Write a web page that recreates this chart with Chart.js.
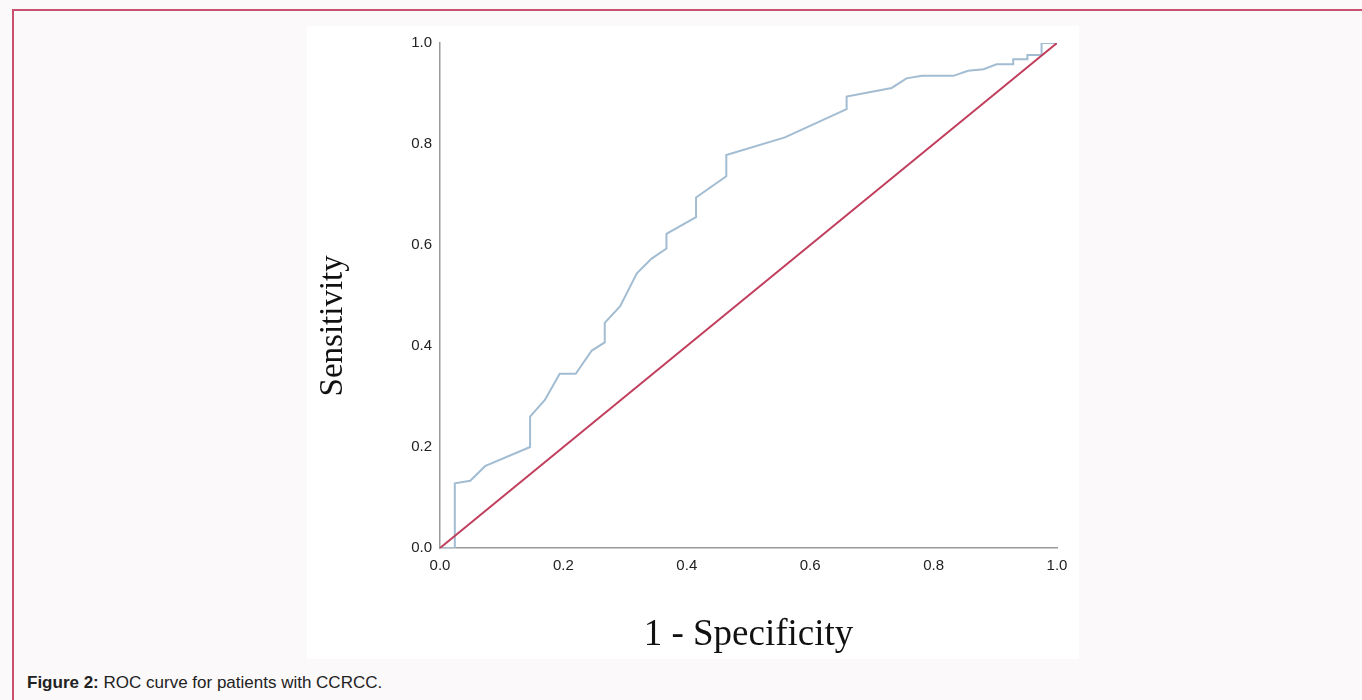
<!DOCTYPE html>
<html lang="en">

<head>
    <meta charset="UTF-8">
    <title>ROC curve</title>
    <script src="https://cdn.jsdelivr.net/npm/chart.js"></script>
    <style>
        body {
            margin: 0;
            background-color: #fbf9fa;
            font-family: Arial, "Liberation Sans", sans-serif;
            overflow: hidden;
        }

        .frame {
            position: absolute;
            left: 12px;
            top: 9px;
            width: 1400px;
            height: 760px;
            border-top: 2px solid #c9506f;
            border-left: 2px solid #c9506f;
        }

        .figure {
            position: absolute;
            left: 307px;
            top: 26px;
            width: 772px;
            height: 633px;
            background-color: #ffffff;
        }

        .caption {
            position: absolute;
            left: 27px;
            top: 673px;
            font-size: 17px;
            color: #222;
        }
    </style>
</head>

<body>
    <div class="frame"></div>
    <div class="figure">
        <canvas id="rocChart" width="772" height="633"></canvas>
    </div>
    <div class="caption"><b>Figure 2:</b> ROC curve for patients with CCRCC.</div>

    <script>
        // ROC 曲线 (1 - specificity, sensitivity)
        const rocX = [0, 0.024, 0.024, 0.049, 0.073, 0.146, 0.146, 0.170, 0.194, 0.220,
            0.246, 0.267, 0.267, 0.292, 0.319, 0.343, 0.367, 0.367, 0.415, 0.415,
            0.464, 0.464, 0.559, 0.659, 0.659, 0.732, 0.756, 0.781, 0.832, 0.856,
            0.881, 0.902, 0.929, 0.929, 0.952, 0.952, 0.975, 0.975, 1.0];
        const rocY = [0, 0, 0.128, 0.133, 0.162, 0.200, 0.260, 0.293, 0.345, 0.345,
            0.391, 0.407, 0.446, 0.479, 0.544, 0.573, 0.593, 0.622, 0.655, 0.694,
            0.736, 0.778, 0.813, 0.869, 0.894, 0.911, 0.930, 0.935, 0.935, 0.945,
            0.948, 0.958, 0.958, 0.968, 0.968, 0.976, 0.976, 1.0, 1.0];
        // 参考线
        const refX = [0, 1];
        const refY = [0, 1];
        const tickValues = [0, 0.2, 0.4, 0.6, 0.8, 1.0];

        const toPoints = (xs, ys) => xs.map((x, i) => ({ x: x, y: ys[i] }));

        // y 轴标题自己画, 位置比轴中心偏下
        const yTitlePlugin = {
            id: 'yTitle',
            afterDraw(chart) {
                const { ctx, chartArea } = chart;
                ctx.save();
                ctx.translate(26, chartArea.top + (chartArea.bottom - chartArea.top) * 0.56);
                ctx.rotate(-Math.PI / 2);
                ctx.font = '33px "Liberation Serif", "Times New Roman", serif';
                ctx.fillStyle = '#111';
                ctx.textAlign = 'center';
                ctx.textBaseline = 'middle';
                ctx.fillText('Sensitivity', 0, 0);
                ctx.restore();
            }
        };

        const tickFont = { family: 'Arial, "Liberation Sans", sans-serif', size: 15 };

        new Chart(document.getElementById('rocChart'), {
            type: 'scatter',
            data: {
                datasets: [{
                    data: toPoints(refX, refY),
                    showLine: true,
                    borderColor: '#c03e5c',
                    borderWidth: 2,
                    pointRadius: 0
                }, {
                    data: toPoints(rocX, rocY),
                    showLine: true,
                    borderColor: '#a2bcd2',
                    borderWidth: 2,
                    pointRadius: 0
                }]
            },
            options: {
                responsive: false,
                animation: false,
                layout: { padding: { top: 11, right: 22 } },
                plugins: {
                    legend: { display: false },
                    tooltip: { enabled: false }
                },
                scales: {
                    x: {
                        type: 'linear',
                        min: 0,
                        max: 1,
                        grid: { display: false, drawTicks: false },
                        border: { color: '#9a9a9a', width: 1.5 },
                        afterBuildTicks: s => { s.ticks = tickValues.map(v => ({ value: v })); },
                        ticks: {
                            padding: 9,
                            color: '#222',
                            font: tickFont,
                            callback: v => v.toFixed(1)
                        },
                        title: {
                            display: true,
                            text: '1 - Specificity',
                            color: '#111',
                            font: { family: '"Liberation Serif", "Times New Roman", serif', size: 37 },
                            padding: { bottom: 2 }
                        },
                        afterFit: s => { s.height = 111; }
                    },
                    y: {
                        type: 'linear',
                        min: 0,
                        max: 1,
                        grid: { display: false, drawTicks: false },
                        border: { color: '#9a9a9a', width: 1.5 },
                        afterBuildTicks: s => { s.ticks = tickValues.map(v => ({ value: v })); },
                        ticks: {
                            padding: 8,
                            color: '#222',
                            font: tickFont,
                            callback: v => v.toFixed(1)
                        },
                        afterFit: s => { s.width = 133; }
                    }
                }
            },
            plugins: [yTitlePlugin]
        });
    </script>
</body>

</html>
